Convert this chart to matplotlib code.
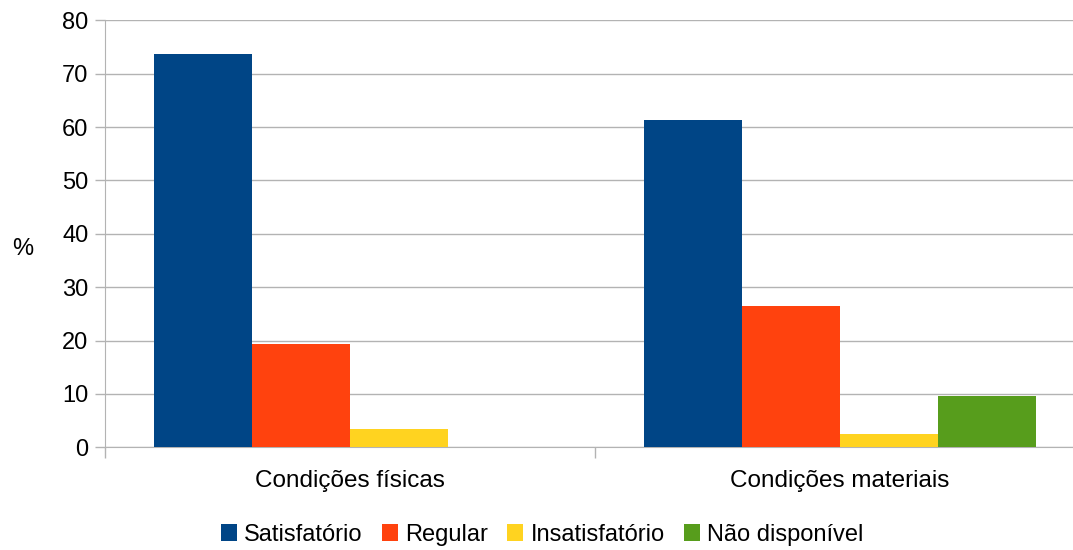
import numpy as np
import matplotlib.pyplot as plt

plt.rcParams['font.family'] = ['Liberation Sans', 'DejaVu Sans']

categories = ["Condições físicas", "Condições materiais"]
series_names = ["Satisfatório", "Regular", "Insatisfatório", "Não disponível"]
satisfatorio = [73.7, 61.3]
regular = [19.4, 26.5]
insatisfatorio = [3.4, 2.5]
nao_disponivel = [0, 9.6]
colors = ["#004586", "#ff420e", "#ffd320", "#579d1c"]

series = [satisfatorio, regular, insatisfatorio, nao_disponivel]

fig = plt.figure(figsize=(10.73, 5.5), dpi=100)
ax = fig.add_axes([105 / 1073, 102.7 / 550, 980 / 1073, 427 / 550])

x = np.arange(len(categories))
width = 0.2
for i, vals in enumerate(series):
    ax.bar(x - 0.3 + i * width, vals, width, color=colors[i],
           label=series_names[i], zorder=3)

ax.set_xlim(-0.5, 1.5)
ax.set_ylim(0, 80)
ax.set_yticks(range(0, 81, 10))
ax.yaxis.grid(True, color="#b3b3b3", linewidth=1, zorder=0)

ax.set_xticks([-0.5, 0.5, 1.5], minor=False)
ax.set_xticklabels([])
ax.set_xticks(x, minor=True)
ax.set_xticklabels(categories, minor=True)
ax.tick_params(axis="x", which="major", length=8, color="#b3b3b3", width=1)
ax.tick_params(axis="x", which="minor", length=0, pad=16, labelsize=17.5)
ax.tick_params(axis="y", length=7, color="#b3b3b3", width=1, labelsize=17, pad=5)

for s in ["top", "right"]:
    ax.spines[s].set_visible(False)
for s in ["left", "bottom"]:
    ax.spines[s].set_color("#b3b3b3")

fig.text(23 / 1073, 1 - 249 / 550, "%", fontsize=17, ha="center", va="center")

fig.legend(loc="center", bbox_to_anchor=(542 / 1073, 1 - 535 / 550), ncol=4,
           frameon=False, fontsize=17, handlelength=0.7, handleheight=0.7,
           handletextpad=0.3, columnspacing=0.8)

fig.savefig("out.png", dpi=100)
